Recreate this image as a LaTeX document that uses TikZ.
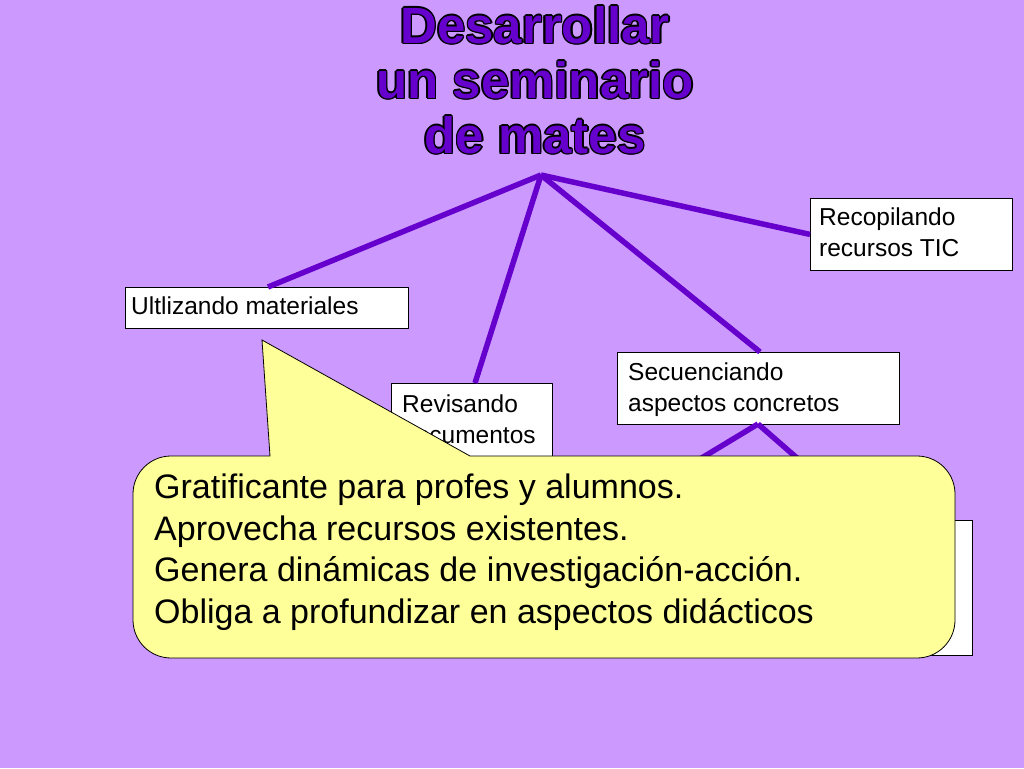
\documentclass[tikz,border=0pt]{standalone}
\usepackage{fontspec}
\setmainfont{Liberation Sans}
\begin{document}
\begin{tikzpicture}[x=1pt,y=-1pt,
  box/.style={draw=black,fill=white,line width=0.8pt,anchor=north west,inner sep=0pt},
  lbl/.style={anchor=north west,align=left,inner sep=0pt,font=\fontsize{24.5}{31}\selectfont},
  conn/.style={draw={rgb,255:red,102;green,0;blue,204},line width=5.5pt}]
\definecolor{bg}{RGB}{204,153,255}
\definecolor{tp}{RGB}{102,0,204}
\definecolor{cy}{RGB}{255,255,153}
\fill[bg] (0,0) rectangle (1024,768);
\useasboundingbox (0,0) rectangle (1024,768);
\newcommand{\ttl}{Desarrollar\\un seminario\\de mates}
\foreach \dx/\dy in {-1.5/0,1.5/0,0/-1.5,0/1.5,-1.1/-1.1,1.1/1.1,-1.1/1.1,1.1/-1.1}
  \node[align=center,text=black,font=\fontsize{51}{55}\selectfont\bfseries] at (535+\dx,80+\dy) {\ttl};
\node[align=center,text=tp,font=\fontsize{51}{55}\selectfont\bfseries] (title) at (535,80) {\ttl};
\coordinate (apex) at (541,175);
% boxes
\node[box,minimum width=283,minimum height=41] (ult) at (125,287) {};
\node[lbl] at (131,297) {Ultlizando materiales};
\node[box,minimum width=202,minimum height=72] (rec) at (810,198) {};
\node[lbl] at (819,208) {Recopilando\\recursos TIC};
\node[box,minimum width=161,minimum height=80] (rev) at (391,383) {};
\node[lbl] at (402,395) {Revisando\\documentos};
\node[box,minimum width=282,minimum height=72] (sec) at (617,352) {};
\node[lbl] at (628,363) {Secuenciando\\aspectos concretos};
\node[box,minimum width=330,minimum height=135] (hid) at (642,520) {};
% connectors
\draw[conn] (apex) -- (268,287);
\draw[conn] (apex) -- (475,383);
\draw[conn] (apex) -- (760,352);
\draw[conn] (apex) -- (rec.west);
\draw[conn] (758,424) -- (690,465);
\draw[conn] (758,424) -- (805,465);
% callout
\draw[fill=cy,line width=0.8pt] (262,340) -- (470,456) [rounded corners=38] -- (955,456)
  -- (955,658) -- (133,658) -- (133,456) -- (220,456) [sharp corners] -- (270,456) -- cycle;
\node[anchor=north west,align=left,inner sep=0pt,font=\fontsize{34}{41.5}\selectfont] (call) at (154,474)
 {Gratificante para profes y alumnos.\\Aprovecha recursos existentes.\\Genera dinámicas de investigación-acción.\\Obliga a profundizar en aspectos didácticos};
\end{tikzpicture}
\end{document}
